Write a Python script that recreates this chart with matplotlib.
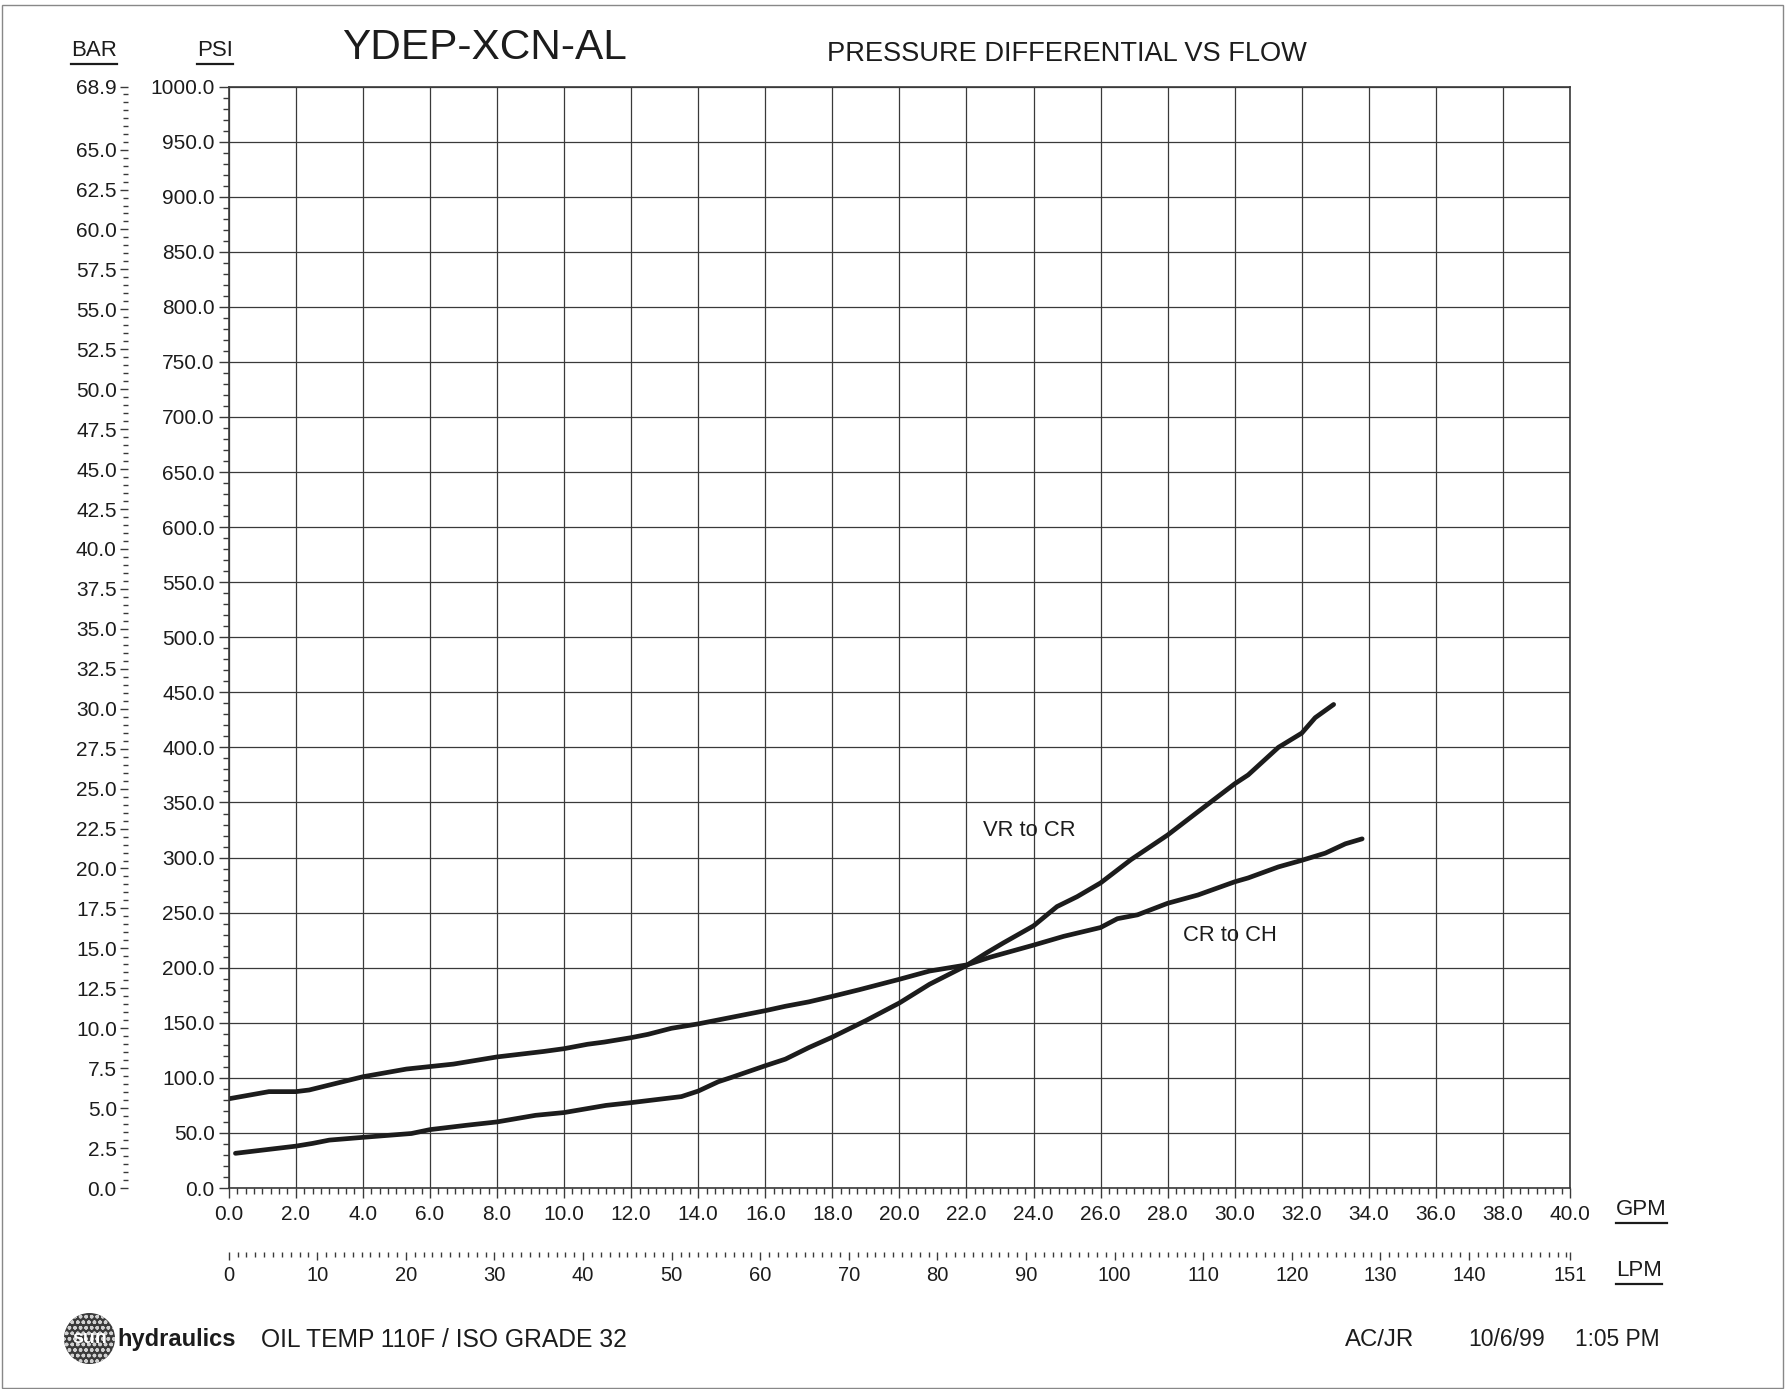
import numpy as np
import matplotlib
matplotlib.use('Agg')
import matplotlib.pyplot as plt
from matplotlib.lines import Line2D
from matplotlib.patches import Circle, Rectangle
from matplotlib.ticker import MultipleLocator, FixedLocator

plt.rcParams['font.family'] = ['Liberation Sans', 'DejaVu Sans']

INK = '#1c1c1c'
GRID = '#3a3a3a'

# Donnees (GPM, PSI)
cr_ch_gpm = [0.0, 1.2, 2.0, 2.4, 4.0, 5.3, 6.7, 8.0, 9.4, 10.0, 10.7, 11.2, 12.0,
             12.5, 13.2, 14.0, 15.0, 16.0, 16.6, 17.3, 18.0, 18.8, 20.0, 20.9,
             22.0, 22.7, 24.0, 24.9, 26.0, 26.5, 27.1, 28.0, 28.9, 30.0, 30.4,
             31.3, 32.0, 32.7, 33.3, 33.8]
cr_ch_psi = [81, 87.5, 87.5, 89, 101, 108, 112.5, 119, 124, 126.5, 130.5, 132.5,
             136.5, 139.5, 145, 149, 155, 161, 165, 169, 174, 180, 189.5, 197,
             202.5, 209.5, 220.5, 228.5, 236.5, 244.5, 248, 258.5, 266, 278,
             281.5, 291.5, 297.5, 304, 312.5, 317]

vr_cr_gpm = [0.2, 2.0, 2.5, 3.0, 4.0, 5.45, 6.0, 7.1, 8.0, 9.15, 10.0, 11.25, 12.0,
             13.5, 14.0, 14.6, 15.0, 16.0, 16.6, 17.3, 18.0, 19.0, 20.0, 20.9,
             22.0, 22.6, 23.1, 24.0, 24.7, 25.3, 26.0, 26.9, 28.0, 28.9, 30.0,
             30.4, 31.3, 32.0, 32.4, 32.95]
vr_cr_psi = [31.5, 38, 40.5, 43.5, 46, 49.5, 53, 57, 60, 66, 68.5, 75, 77.5, 83,
             88, 96.5, 100.5, 111, 117, 127.5, 137, 152, 168, 185, 202, 213.5,
             222.5, 238, 255.5, 264.5, 277, 298, 320.5, 341.5, 367, 375, 400, 413,
             427, 439]

gpm_max = 40.0
psi_max = 1000.0
bar_max = psi_max / 14.5038
lpm_max = gpm_max * 3.785411784

fig = plt.figure(figsize=(17.87, 13.89), dpi=100)

# Cadre de la page
fig.add_artist(Rectangle((0.001, 0.001), 0.997, 0.9955, transform=fig.transFigure,
                         fill=False, edgecolor='#888888', lw=1.0))

# Axe principal (PSI / GPM)
ax = fig.add_axes([0.128, 0.1447, 0.7506, 0.793])
ax.plot(cr_ch_gpm, cr_ch_psi, color=INK, lw=3.4, solid_capstyle='round')
ax.plot(vr_cr_gpm, vr_cr_psi, color=INK, lw=3.4, solid_capstyle='round')
ax.set_xlim(0, gpm_max)
ax.set_ylim(0, psi_max)
ax.xaxis.set_major_locator(MultipleLocator(2.0))
ax.xaxis.set_minor_locator(MultipleLocator(0.25))
ax.yaxis.set_major_locator(MultipleLocator(50))
ax.yaxis.set_minor_locator(MultipleLocator(10))
ax.xaxis.set_major_formatter(lambda v, p: f'{v:.1f}')
ax.yaxis.set_major_formatter(lambda v, p: f'{v:.1f}')
ax.grid(True, which='major', color=GRID, lw=0.9)
ax.tick_params(which='both', direction='out', colors=GRID, labelcolor=INK, width=1)
ax.tick_params(which='major', length=7, labelsize=15)
ax.tick_params(which='minor', length=4)
ax.tick_params(axis='x', which='major', pad=5)
ax.tick_params(axis='y', which='major', pad=3)
for s in ax.spines.values():
    s.set_color(GRID)
    s.set_linewidth(1.2)

ax.text(22.5, 325, 'VR to CR', fontsize=15.8, color=INK, va='center', ha='left')
ax.text(28.45, 229, 'CR to CH', fontsize=15.8, color=INK, va='center', ha='left')

# Axe BAR a gauche
ax_bar = fig.add_axes([0.0716, 0.1447, 0.0001, 0.793])
ax_bar.set_ylim(0, bar_max)
bar_major = list(np.arange(0, 66, 2.5)) + [bar_max]
ax_bar.yaxis.set_major_locator(FixedLocator(bar_major))
ax_bar.yaxis.set_minor_locator(FixedLocator(np.arange(0, 68.6, 0.5)))
ax_bar.yaxis.set_major_formatter(lambda v, p: f'{v:.1f}')
ax_bar.tick_params(which='both', direction='out', colors=GRID, labelcolor=INK, width=1)
ax_bar.tick_params(which='major', length=6, labelsize=15, pad=2)
ax_bar.tick_params(which='minor', length=3.5)
ax_bar.xaxis.set_visible(False)
for s in ax_bar.spines.values():
    s.set_visible(False)
ax_bar.patch.set_visible(False)

# Axe LPM en bas
ax_lpm = fig.add_axes([0.128, 0.0986, 0.7506, 0.0001])
ax_lpm.set_xlim(0, lpm_max)
lpm_major = list(np.arange(0, 141, 10)) + [lpm_max]
ax_lpm.xaxis.set_major_locator(FixedLocator(lpm_major))
ax_lpm.xaxis.set_minor_locator(FixedLocator(np.arange(0, 152, 1)))
ax_lpm.xaxis.set_major_formatter(lambda v, p: f'{v:.0f}')
ax_lpm.tick_params(which='both', direction='out', colors=GRID, labelcolor=INK, width=1)
ax_lpm.tick_params(which='major', length=6, labelsize=14.5, pad=4)
ax_lpm.tick_params(which='minor', length=3.5)
ax_lpm.yaxis.set_visible(False)
for s in ax_lpm.spines.values():
    s.set_visible(False)
ax_lpm.patch.set_visible(False)

# Textes d'en-tete et de pied
under = []
under.append(fig.text(0.0396, 0.964, 'BAR', fontsize=16, color=INK, va='center'))
under.append(fig.text(0.1102, 0.964, 'PSI', fontsize=16, color=INK, va='center'))
under.append(fig.text(0.9043, 0.1289, 'GPM', fontsize=16, color=INK, va='center'))
under.append(fig.text(0.9043, 0.0850, 'LPM', fontsize=16, color=INK, va='center'))
fig.text(0.1914, 0.9654, 'YDEP-XCN-AL', fontsize=30.5, color=INK, va='center')
fig.text(0.4628, 0.9614, 'PRESSURE DIFFERENTIAL VS FLOW', fontsize=19.6, color=INK, va='center')

fig.text(0.0655, 0.0355, 'hydraulics', fontsize=17, fontweight='bold', color=INK, va='center')
fig.text(0.146, 0.0355, 'OIL TEMP 110F / ISO GRADE 32', fontsize=17.7, color=INK, va='center')
fig.text(0.7527, 0.0355, 'AC/JR', fontsize=17.3, color=INK, va='center')
fig.text(0.8215, 0.0355, '10/6/99', fontsize=16.6, color=INK, va='center')
fig.text(0.8814, 0.0355, '1:05 PM', fontsize=16.4, color=INK, va='center')

# Logo
ax_logo = fig.add_axes([64 / 1787, 1 - 1364 / 1389, 51 / 1787, 51 / 1389])
ax_logo.add_patch(Circle((0.5, 0.5), 0.5, facecolor='#3a3a3a', edgecolor='#d0d0d0',
                         hatch='ooo', lw=0))
ax_logo.text(0.5, 0.5, 'sun', fontsize=14, fontweight='bold', color='white',
             ha='center', va='center')
ax_logo.set_xlim(0, 1)
ax_logo.set_ylim(0, 1)
ax_logo.axis('off')

# Soulignement
fig.canvas.draw()
inv = fig.transFigure.inverted()
for t in under:
    bb = t.get_window_extent()
    (x0, y0), (x1, _) = inv.transform([[bb.x0, bb.y0 - 3], [bb.x1, bb.y0]])
    fig.add_artist(Line2D([x0, x1], [y0, y0], transform=fig.transFigure,
                          color=INK, lw=1.6))

fig.savefig('out.png', dpi=100)
